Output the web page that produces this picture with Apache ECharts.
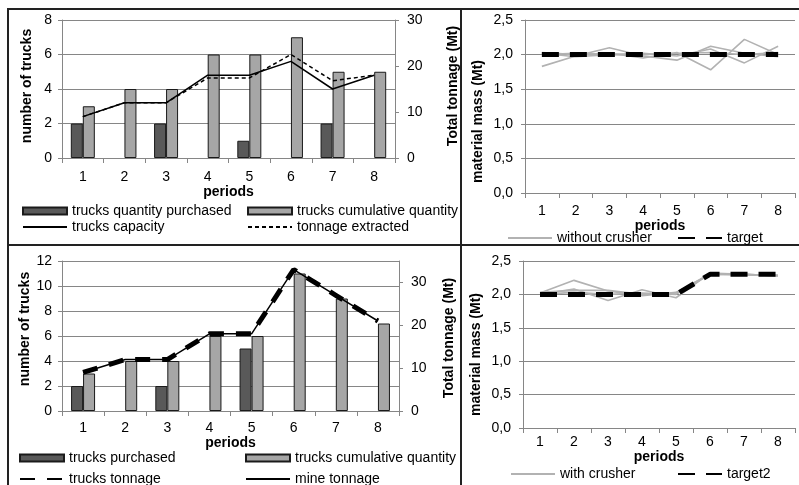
<!DOCTYPE html>
<html>
<head>
<meta charset="utf-8">
<script src="https://cdn.jsdelivr.net/npm/echarts@6/dist/echarts.min.js"></script>
<style>
html,body{margin:0;padding:0;background:#fff;}
#c{width:799px;height:485px;}
</style>
</head>
<body>
<div id="c"></div>
<script>
// ---- data ----
const periods = ['1','2','3','4','5','6','7','8'];

// top-left
const tlPurchased  = [2, 0, 2, 0, 1, 0, 2, 0];
const tlCumulative = [3, 4, 4, 6, 6, 7, 5, 5];
const tlCapacity   = [9, 12, 12, 18, 18, 21, 15, 18];
const tlExtracted  = [9, 12, 12, 17.4, 17.4, 22.5, 16.8, 18];

// top-right
const woCrusher1 = [1.83, 1.98, 2.10, 1.98, 1.92, 2.12, 2.02, 1.97];
const woCrusher2 = [2.03, 2.00, 2.02, 1.95, 2.03, 1.78, 2.22, 2.00];
const woCrusher3 = [2.02, 1.97, 2.00, 2.02, 1.98, 2.08, 1.88, 2.12];
const woCrusher4 = [2.00, 2.02, 2.00, 2.00, 2.02, 2.03, 2.00, 2.03];
const target     = [2.0, 2.0, 2.0, 2.0, 2.0, 2.0, 2.0, 2.0];

// bottom-left
const blPurchased     = [2, 0, 2, 0, 5, 0, 0, 0];
const blCumulative    = [3, 4, 4, 6, 6, 11, 9, 7];
const blTrucksTonnage = [9, 12, 12, 18, 18, 33, 27, 21];
const blMineTonnage   = [9, 12, 12, 18, 18, 33, 27, 21];

// bottom-right
const wCrusher1 = [2.02, 2.21, 2.05, 1.98, 2.03, 2.30, 2.30, 2.28];
const wCrusher2 = [2.00, 2.08, 1.91, 2.07, 1.95, 2.32, 2.30, 2.28];
const wCrusher3 = [2.03, 2.06, 2.06, 2.00, 2.02, 2.31, 2.29, 2.29];
const wCrusher4 = [2.00, 2.03, 2.00, 2.02, 2.00, 2.30, 2.30, 2.28];
const target2   = [2.0, 2.0, 2.0, 2.0, 2.0, 2.3, 2.3, 2.3];

// ---- styling ----
const FONT = 'Liberation Sans, Arial, sans-serif';
const AX = '#868686';
const nz = a => a.map(v => v === 0 ? null : v);
const comma = v => v.toFixed(1).replace('.', ',');

function xAx(gi, margin, gap) {
  return {
    type: 'category', data: periods, gridIndex: gi, boundaryGap: true,
    axisLine: {show: true, lineStyle: {color: AX, width: 1}},
    axisTick: {show: true, length: 5, lineStyle: {color: AX}},
    axisLabel: {color: '#000', fontSize: 14, fontFamily: FONT, margin: margin},
    name: 'periods', nameLocation: 'middle', nameGap: gap,
    nameTextStyle: {color: '#000', fontSize: 14, fontWeight: 'bold', fontFamily: FONT}
  };
}
function yAx(gi, opt, pad) {
  return Object.assign({
    type: 'value', gridIndex: gi, nameLocation: 'middle',
    axisLine: {show: true, lineStyle: {color: AX}},
    axisTick: {show: true, length: 4, lineStyle: {color: AX}},
    axisLabel: {color: '#000', fontSize: 14, fontFamily: FONT, margin: 10},
    splitLine: {show: true, lineStyle: {color: AX, width: 1}},
    nameTextStyle: {color: '#000', fontSize: 14, fontWeight: 'bold', fontFamily: FONT, padding: pad || 0}
  }, opt);
}

const darkBar = {color: '#595959', borderColor: '#1a1a1a', borderWidth: 1};
const lightBar = {color: '#a6a6a6', borderColor: '#1a1a1a', borderWidth: 1};
const grayLine = {color: '#b2b2b2', width: 1.6};

function leg(name, left, top, isLine) {
  const l = {
    data: [name], left: left, top: top, padding: 0, itemGap: 0,
    itemWidth: 44, itemHeight: 7, selectedMode: false,
    textStyle: {color: '#000', fontSize: 14, fontFamily: FONT}
  };
  if (isLine) l.itemStyle = {opacity: 0};
  else l.icon = 'rect';
  return l;
}

const option = {
  animation: false,
  backgroundColor: '#fff',
  textStyle: {fontFamily: FONT},
  grid: [
    {left: 62, top: 20, width: 333, height: 138},
    {left: 525, top: 20, width: 270, height: 173},
    {left: 62, top: 261, width: 337, height: 150},
    {left: 523, top: 261, width: 272, height: 167}
  ],
  xAxis: [xAx(0, 12, 22), xAx(1, 11, 23), xAx(2, 10, 19), xAx(3, 7, 20)],
  yAxis: [
    yAx(0, {min: 0, max: 8, interval: 2, name: 'number of trucks', nameGap: 28}, [0, 0, 0, 6]),
    yAx(0, {min: 0, max: 30, interval: 10, position: 'right', splitLine: {show: false},
            name: 'Total tonnage (Mt)', nameGap: 51, nameRotate: 90,
            axisLabel: {color: '#000', fontSize: 14, fontFamily: FONT, margin: 12}}, [0, 0, 0, 6]),
    yAx(1, {min: 0, max: 2.5, interval: 0.5, name: 'material mass (Mt)', nameGap: 40,
            axisLabel: {color: '#000', fontSize: 14, fontFamily: FONT, margin: 12, formatter: comma}}, [0, 30, 0, 0]),
    yAx(2, {min: 0, max: 12, interval: 2, name: 'number of trucks', nameGap: 30}, [0, 0, 0, 14]),
    yAx(2, {min: 0, max: 35, interval: 10, position: 'right', splitLine: {show: false},
            name: 'Total tonnage (Mt)', nameGap: 43, nameRotate: 90,
            axisLabel: {color: '#000', fontSize: 14, fontFamily: FONT, margin: 12, showMaxLabel: false}}, [0, 4, 0, 0]),
    yAx(3, {min: 0, max: 2.5, interval: 0.5, name: 'material mass (Mt)', nameGap: 40,
            axisLabel: {color: '#000', fontSize: 14, fontFamily: FONT, margin: 12, formatter: comma}}, [0, 20, 0, 0])
  ],
  legend: [
    leg('trucks quantity purchased', 22, 204),
    leg('trucks cumulative quantity', 247, 204),
    leg('trucks capacity', 22, 220, true),
    leg('tonnage extracted', 247, 220, true),
    leg('without crusher', 507, 231, true),
    leg('target', 677, 231, true),
    leg('trucks purchased', 19, 451),
    leg('trucks cumulative quantity', 245, 451),
    leg('trucks tonnage', 19, 472, true),
    leg('mine tonnage', 245, 472, true),
    leg('with crusher', 510, 467, true),
    leg('target2', 677, 467, true)
  ],
  series: [
    // top-left
    {name: 'trucks quantity purchased', type: 'bar', xAxisIndex: 0, yAxisIndex: 0, data: nz(tlPurchased),
     barWidth: 12, barGap: '0%', itemStyle: darkBar},
    {name: 'trucks cumulative quantity', type: 'bar', xAxisIndex: 0, yAxisIndex: 0, data: tlCumulative,
     barWidth: 12, barGap: '0%', itemStyle: lightBar},
    {name: 'trucks capacity', type: 'line', xAxisIndex: 0, yAxisIndex: 1, data: tlCapacity, symbol: 'none',
     lineStyle: {color: '#000', width: 1.5}, itemStyle: {color: '#000'}},
    {name: 'tonnage extracted', type: 'line', xAxisIndex: 0, yAxisIndex: 1, data: tlExtracted, symbol: 'none',
     lineStyle: {color: '#000', width: 1.5, type: [4, 3]}, itemStyle: {color: '#000'}},
    // top-right
    {name: 'without crusher', type: 'line', xAxisIndex: 1, yAxisIndex: 2, data: woCrusher1, symbol: 'none', lineStyle: grayLine, itemStyle: {color: '#b2b2b2'}},
    {name: 'without crusher', type: 'line', xAxisIndex: 1, yAxisIndex: 2, data: woCrusher2, symbol: 'none', lineStyle: grayLine, itemStyle: {color: '#b2b2b2'}},
    {name: 'without crusher', type: 'line', xAxisIndex: 1, yAxisIndex: 2, data: woCrusher3, symbol: 'none', lineStyle: grayLine, itemStyle: {color: '#b2b2b2'}},
    {name: 'without crusher', type: 'line', xAxisIndex: 1, yAxisIndex: 2, data: woCrusher4, symbol: 'none', lineStyle: grayLine, itemStyle: {color: '#b2b2b2'}},
    {name: 'target', type: 'line', xAxisIndex: 1, yAxisIndex: 2, data: target, symbol: 'none', z: 5,
     lineStyle: {color: '#000', width: 5, type: [17, 11], cap: 'butt'}, itemStyle: {color: '#000'}},
    // bottom-left
    {name: 'trucks purchased', type: 'bar', xAxisIndex: 2, yAxisIndex: 3, data: nz(blPurchased),
     barWidth: 12, barGap: '0%', itemStyle: darkBar},
    {name: 'trucks cumulative quantity', type: 'bar', xAxisIndex: 2, yAxisIndex: 3, data: blCumulative,
     barWidth: 12, barGap: '0%', itemStyle: lightBar},
    {name: 'trucks tonnage', type: 'line', xAxisIndex: 2, yAxisIndex: 4, data: blTrucksTonnage, symbol: 'none',
     lineStyle: {color: '#000', width: 5, type: [15, 12], cap: 'butt'}, itemStyle: {color: '#000'}},
    {name: 'mine tonnage', type: 'line', xAxisIndex: 2, yAxisIndex: 4, data: blMineTonnage, symbol: 'none', z: 4,
     lineStyle: {color: '#000', width: 1.5}, itemStyle: {color: '#000'}},
    // bottom-right
    {name: 'with crusher', type: 'line', xAxisIndex: 3, yAxisIndex: 5, data: wCrusher1, symbol: 'none', lineStyle: grayLine, itemStyle: {color: '#b2b2b2'}},
    {name: 'with crusher', type: 'line', xAxisIndex: 3, yAxisIndex: 5, data: wCrusher2, symbol: 'none', lineStyle: grayLine, itemStyle: {color: '#b2b2b2'}},
    {name: 'with crusher', type: 'line', xAxisIndex: 3, yAxisIndex: 5, data: wCrusher3, symbol: 'none', lineStyle: grayLine, itemStyle: {color: '#b2b2b2'}},
    {name: 'with crusher', type: 'line', xAxisIndex: 3, yAxisIndex: 5, data: wCrusher4, symbol: 'none', lineStyle: grayLine, itemStyle: {color: '#b2b2b2'}},
    {name: 'target2', type: 'line', xAxisIndex: 3, yAxisIndex: 5, data: target2, symbol: 'none', z: 5,
     lineStyle: {color: '#000', width: 5, type: [17, 11], cap: 'butt'}, itemStyle: {color: '#000'}}
  ],
  graphic: [
    {type: 'rect', shape: {x: 8, y: 9, width: 800, height: 490}, style: {fill: 'none', stroke: '#222', lineWidth: 2}, silent: true},
    {type: 'line', shape: {x1: 461, y1: 9, x2: 461, y2: 485}, style: {stroke: '#222', lineWidth: 2}, silent: true},
    {type: 'line', shape: {x1: 8, y1: 245, x2: 799, y2: 245}, style: {stroke: '#222', lineWidth: 2}, silent: true}
  ]
};

const chart = echarts.init(document.getElementById('c'), null, {renderer: 'canvas'});
chart.setOption(option);
</script>
</body>
</html>
